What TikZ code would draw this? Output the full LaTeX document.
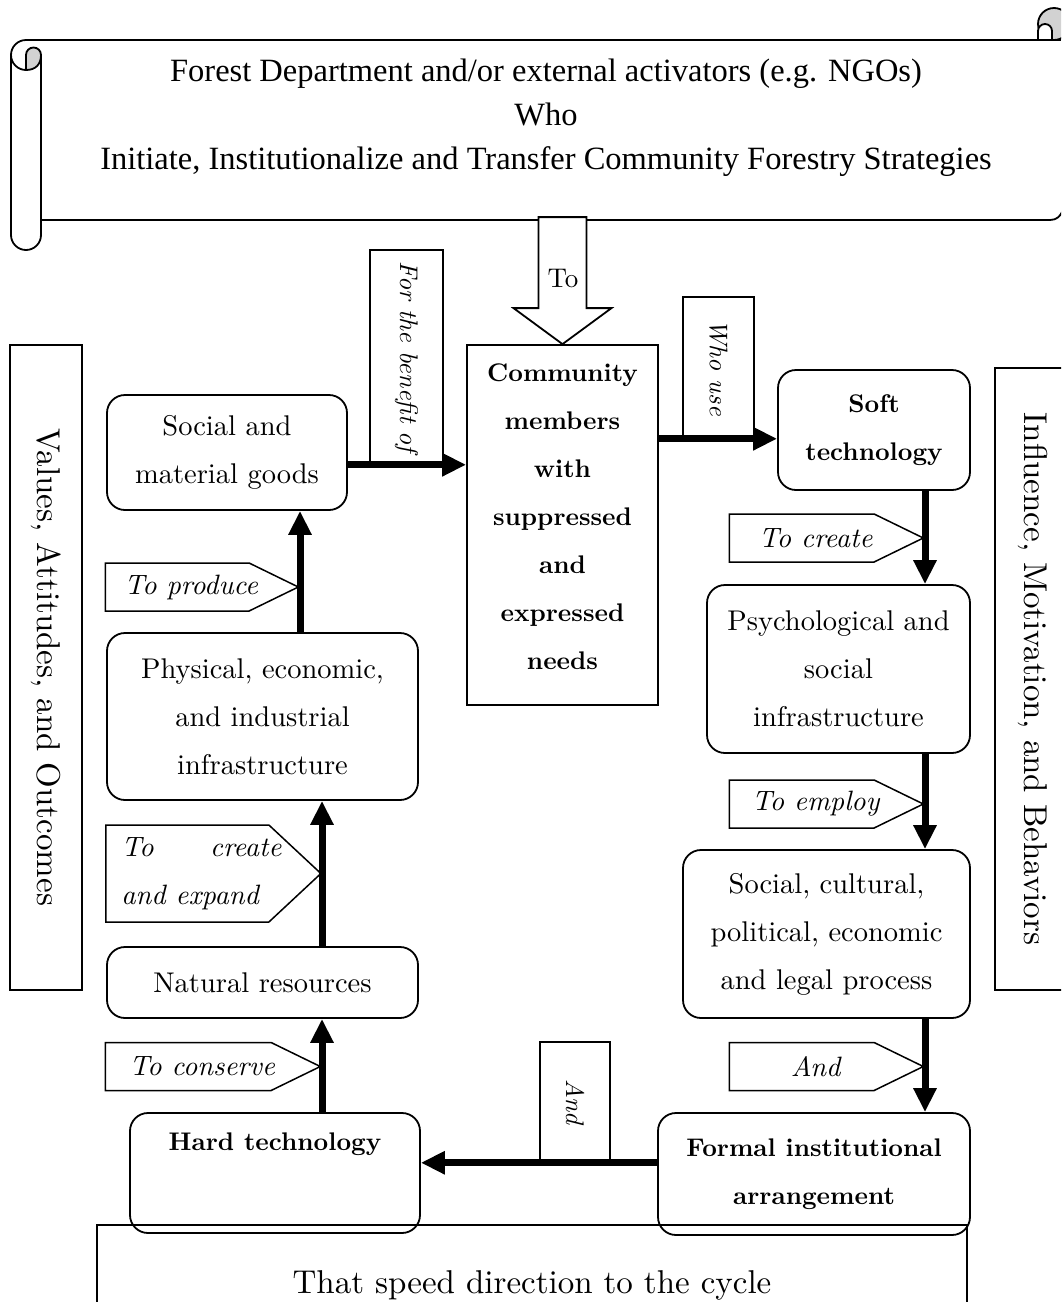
\documentclass[tikz,border=0pt]{standalone}
\usepackage{fontspec}
\setmainfont{lmroman10-regular.otf}[BoldFont=lmroman10-bold.otf, ItalicFont=lmroman10-italic.otf, BoldItalicFont=lmroman10-bolditalic.otf]
\newfontfamily\scrollfont{Liberation Serif}
\usetikzlibrary{arrows.meta,shapes.symbols}
\newcommand{\nudged}[1]{\hspace*{14pt}#1\hspace*{-14pt}}

\begin{document}
\begin{tikzpicture}[
    x=1pt, y=-1pt,
    stage/.style={rectangle, draw, line width=1.8pt, rounded corners=18pt, align=center, font=\fontsize{28.5}{48}\selectfont},
    keystage/.style={stage, font=\fontsize{25.5}{48}\selectfont\bfseries},
    verb/.style={signal, signal to=east, signal from=nowhere, draw, line width=1.5pt, fill=white, minimum height=48pt, inner sep=0pt, signal pointer angle=52, align=center, font=\fontsize{28}{48}\selectfont\itshape},
    tag/.style={rectangle, draw, line width=1.5pt, fill=white, rotate=-90, font=\fontsize{25.5}{30}\selectfont\itshape},
    sidebox/.style={rectangle, draw, line width=1.8pt, rotate=-90, font=\fontsize{33}{36}\selectfont},
    flow/.style={line width=7pt, -{Triangle[width=22pt,length=24pt]}},
    scrollline/.style={line width=1.8pt}
  ]
    \useasboundingbox (0,0) rectangle (1061,1302);
    \clip (0,0) rectangle (1061,1302);

    % Scroll
    \draw[scrollline] (41,220) -- (1050,220) .. controls (1057,220) and (1060,216) .. (1062,212);
    \draw[scrollline, fill=white] (41,55) -- (41,235) arc[start angle=0, end angle=180, radius=15]
      -- (11,55) arc[start angle=180, end angle=270, radius=15];
    \draw[scrollline] (11,55) arc[start angle=180, end angle=90, radius=15];
    \draw[scrollline, fill=gray!35] (26,70) -- (26,55) arc[start angle=180, end angle=360, radius=7.5]
      .. controls (41,64) and (36,70) .. (26,70);
    \draw[scrollline, fill=gray!35] (1054,24) circle[radius=16];
    \draw[scrollline, fill=white] (1038,40) -- (1038,31) arc[start angle=180, end angle=360, radius=7] -- (1052,40);
    \draw[scrollline] (26,40) -- (1061,40);
    \node[font=\scrollfont\fontsize{32.5}{44}\selectfont, align=center] (initiators) at (546,118)
      {Forest Department and/or external activators (e.g. NGOs)\\Who\\Initiate, Institutionalize and Transfer Community Forestry Strategies};
    \coordinate (scrollfoot) at (563,219);

    % Side boxes
    \node[sidebox, minimum width=645pt, minimum height=72pt] (values) at (46,667.5) {Values, Attitudes, and Outcomes};
    \node[sidebox, minimum width=622pt, minimum height=76pt] (influence) at (1033,679) {Influence, Motivation, and Behaviors};
    \node[rectangle, draw, line width=1.8pt, minimum width=870pt, minimum height=120pt, font=\fontsize{33}{36}\selectfont] (cycle) at (532,1285) {That speed direction to the cycle};

    % Community
    \node[keystage, rounded corners=0pt, minimum width=191pt, minimum height=360pt] (comm) at (562.5,525)
      {Community\\members\\with\\suppressed\\and\\expressed\\needs\rule[-16pt]{0pt}{16pt}};
    \draw[line width=1.8pt, fill=white] (comm.north) -- ++(-49,-36) -- ++(25,0) -- ++(0,-91)
      -- ++(48,0) -- ++(0,91) -- ++(25,0) -- cycle;
    \node[font=\fontsize{27}{30}\selectfont] (tolabel) at (563,279) {To};

    % Left column
    \node[stage, minimum width=240pt, minimum height=115pt] (goods) at (227,452.5) {Social and\\material goods};
    \node[stage, minimum width=311pt, minimum height=167pt] (phys) at (262.5,716.5) {Physical, economic,\\and industrial\\infrastructure};
    \node[stage, minimum width=311pt, minimum height=71pt] (nat) at (262.5,982.5) {Natural resources};
    \node[keystage, minimum width=290pt, minimum height=120pt] (hard) at (275,1173) {Hard technology\\\strut};

    % Right column
    \node[keystage, minimum width=192pt, minimum height=120pt] (soft) at (874,430) {Soft\\technology};
    \node[stage, minimum width=263pt, minimum height=168pt] (psych) at (838.5,669) {Psychological and\\social\\infrastructure};
    \node[stage, minimum width=287pt, minimum height=168pt] (proc) at (826.5,934) {Social, cultural,\\political, economic\\and legal process};
    \node[keystage, minimum width=312pt, minimum height=122pt] (formal) at (814,1174) {Formal institutional\\arrangement};

    % Verb labels
    \node[verb, minimum width=193pt, anchor=east] (produce) at (300,587) {\nudged{To produce}};
    \node[verb, minimum width=215pt, minimum height=97pt, signal pointer angle=86, anchor=east] (expand) at (322,873.5)
      {\nudged{\makebox[160pt][s]{To create}}\\\nudged{\makebox[160pt][l]{and expand}}};
    \node[verb, minimum width=215pt, anchor=east] (conserve) at (322,1066.5) {\nudged{To conserve}};
    \node[verb, minimum width=194pt, anchor=east] (tocreate) at (925,538) {\nudged{To create}};
    \node[verb, minimum width=194pt, anchor=east] (toemploy) at (925,804) {\nudged{To employ}};
    \node[verb, minimum width=194pt, anchor=east] (and1) at (925,1066.5) {\nudged{And}};
    \node[tag, minimum width=214pt, minimum height=73pt] (benefit) at (406.5,357) {For the benefit of};
    \node[tag, minimum width=141pt, minimum height=71pt] (whouse) at (718.5,367.5) {Who use};
    \node[tag, minimum width=120pt, minimum height=70pt] (and2) at (575,1102) {And};

    % Cycle arrows
    \draw[flow] (goods.east |- benefit.east) -- (comm.west |- benefit.east);
    \draw[flow] (comm.east |- whouse.east) -- (soft.west |- whouse.east);
    \draw[flow] (soft.south -| tocreate.east) -- (psych.north -| tocreate.east);
    \draw[flow] (psych.south -| toemploy.east) -- (proc.north -| toemploy.east);
    \draw[flow] (proc.south -| and1.east) -- (formal.north -| and1.east);
    \draw[flow] (formal.west |- and2.east) -- (hard.east |- and2.east);
    \draw[flow] (hard.north -| conserve.east) -- (nat.south -| conserve.east);
    \draw[flow] (nat.north -| expand.east) -- (phys.south -| expand.east);
    \draw[flow] (phys.north -| produce.east) -- (goods.south -| produce.east);
  \end{tikzpicture}
\end{document}
